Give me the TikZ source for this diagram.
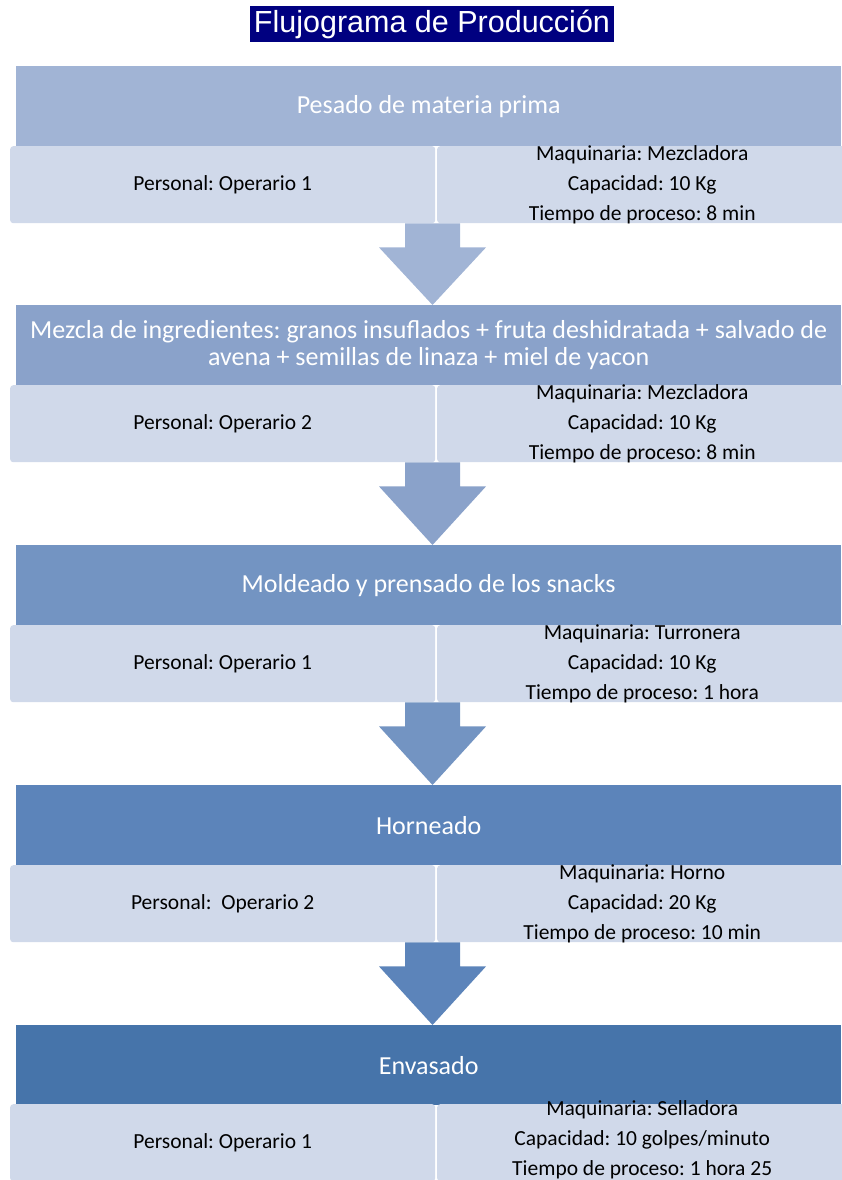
\documentclass[tikz,border=0pt]{standalone}
\usepackage{fontspec}
\setmainfont{Carlito}
\newfontfamily\arialf{Liberation Sans}
\usetikzlibrary{calc}
\frenchspacing
\definecolor{navyt}{HTML}{000080}
\definecolor{cA}{HTML}{A1B4D5}
\definecolor{cB}{HTML}{8AA2CA}
\definecolor{cC}{HTML}{7394C2}
\definecolor{cD}{HTML}{5C84BA}
\definecolor{cE}{HTML}{4674AA}
\definecolor{lowc}{HTML}{D0D9EA}
\tikzset{
  titlebox/.style={fill=navyt, text=white, inner sep=0pt, minimum width=364pt, minimum height=36pt, font=\arialf\fontsize{30.5}{32}\selectfont},
  hdr/.style={anchor=north west, minimum width=825pt, minimum height=80pt, inner sep=0pt, text=white, align=center, font=\fontsize{26}{27.5}\selectfont},
  lowbox/.style={anchor=north west, fill=lowc, rounded corners=3pt, minimum height=77pt, inner sep=0pt},
  leftbox/.style={lowbox, minimum width=425pt},
  rightbox/.style={lowbox, minimum width=410pt},
  bodytxt/.style={inner sep=0pt, align=center, text=black, font=\fontsize{21.5}{30}\selectfont}
}
\newcommand\blockarr[3]{%
  \fill[#1] let \p1=(#2), \p2=(#3) in
    (\x1-27.5pt,\y1) -- (\x1+27.5pt,\y1) -- (\x1+27.5pt,\y1-24pt) -- (\x1+53.5pt,\y1-24pt)
    -- (\x2,\y2) -- (\x1-53.5pt,\y1-24pt) -- (\x1-27.5pt,\y1-24pt) -- cycle;}
\begin{document}
\begin{tikzpicture}[x=1pt,y=-1pt]
\useasboundingbox (0,0) rectangle (841,1180);
\node[titlebox] (title) at (432,24) {Flujograma de Producción};
\coordinate (ax) at (432.5,0);
% stage 1
\node[hdr, fill=cA] (h1) at (16,66) {Pesado de materia prima};
\node[leftbox] (l1) at (10,146) {};
\node[rightbox] (r1) at (437,146) {};
\node[bodytxt] (p1) at (l1.center) {Personal: Operario 1};
\node[bodytxt] (m1) at (r1.center) {Maquinaria: Mezcladora\\Capacidad: 10 Kg\\Tiempo de proceso: 8 min};
% stage 2
\node[hdr, fill=cB] (h2) at (16,305) {Mezcla de ingredientes: granos insuflados + fruta deshidratada + salvado de\\avena + semillas de linaza + miel de yacon};
\node[leftbox] (l2) at (10,385) {};
\node[rightbox] (r2) at (437,385) {};
\node[bodytxt] (p2) at (l2.center) {Personal: Operario 2};
\node[bodytxt] (m2) at (r2.center) {Maquinaria: Mezcladora\\Capacidad: 10 Kg\\Tiempo de proceso: 8 min};
% stage 3
\node[hdr, fill=cC] (h3) at (16,545) {Moldeado y prensado de los snacks};
\node[leftbox] (l3) at (10,625) {};
\node[rightbox] (r3) at (437,625) {};
\node[bodytxt] (p3) at (l3.center) {Personal: Operario 1};
\node[bodytxt] (m3) at (r3.center) {Maquinaria: Turronera\\Capacidad: 10 Kg\\Tiempo de proceso: 1 hora};
% stage 4
\node[hdr, fill=cD] (h4) at (16,785) {Horneado};
\node[leftbox] (l4) at (10,865) {};
\node[rightbox] (r4) at (437,865) {};
\node[bodytxt] (p4) at (l4.center) {Personal:\ \ Operario 2};
\node[bodytxt] (m4) at (r4.center) {Maquinaria: Horno\\Capacidad: 20 Kg\\Tiempo de proceso: 10 min};
% stage 5
\node[hdr, fill=cE] (h5) at (16,1025) {Envasado};
\node[leftbox] (l5) at (10,1104) {};
\node[rightbox] (r5) at (437,1104) {};
\node[bodytxt] (p5) at (l5.center) {Personal: Operario 1};
\node[bodytxt] (m5) at ($(r5.center)+(0,-3)$) {Maquinaria: Selladora\\Capacidad: 10 golpes/minuto\\Tiempo de proceso: 1 hora 25};
% arrows
\blockarr{cA}{r1.south -| ax}{h2.north -| ax}
\blockarr{cB}{r2.south -| ax}{h3.north -| ax}
\blockarr{cC}{r3.south -| ax}{h4.north -| ax}
\blockarr{cD}{r4.south -| ax}{h5.north -| ax}
\end{tikzpicture}
\end{document}
